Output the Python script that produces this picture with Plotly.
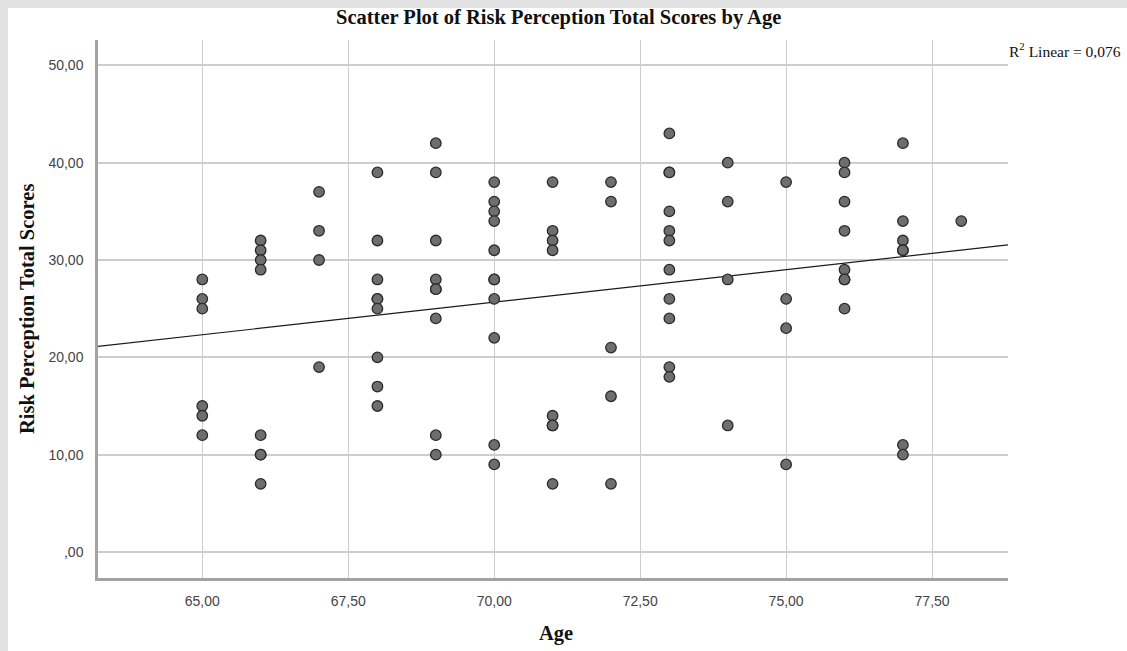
import numpy as np
import plotly.graph_objects as go

# ---- data ----
scores_65 = [28, 26, 25, 15, 14, 12]
scores_66 = [32, 31, 30, 29, 12, 10, 10, 7]
scores_67 = [37, 33, 30, 19]
scores_68 = [39, 32, 28, 26, 26, 25, 20, 17, 15]
scores_69 = [42, 39, 32, 28, 27, 27, 24, 12, 10]
scores_70 = [38, 36, 35, 34, 31, 28, 28, 26, 22, 11, 9]
scores_71 = [38, 33, 32, 31, 14, 13, 13, 7]
scores_72 = [38, 36, 21, 16, 7]
scores_73 = [43, 39, 39, 35, 33, 32, 29, 26, 24, 19, 18]
scores_74 = [40, 36, 28, 13]
scores_75 = [38, 26, 23, 9]
scores_76 = [40, 39, 36, 33, 29, 28, 28, 25]
scores_77 = [42, 34, 32, 31, 31, 11, 10]
scores_78 = [34]

ages_list = [65, 66, 67, 68, 69, 70, 71, 72, 73, 74, 75, 76, 77, 78]
groups = [scores_65, scores_66, scores_67, scores_68, scores_69, scores_70, scores_71,
          scores_72, scores_73, scores_74, scores_75, scores_76, scores_77, scores_78]

x_ticks = [65, 67.5, 70, 72.5, 75, 77.5]
x_ticktext = ["65,00", "67,50", "70,00", "72,50", "75,00", "77,50"]
y_ticks = [0, 10, 20, 30, 40, 50]
y_ticktext = [",00", "10,00", "20,00", "30,00", "40,00", "50,00"]

title_text = "Scatter Plot of Risk Perception Total Scores by Age"
x_title = "Age"
y_title = "Risk Perception Total Scores"
r2_text = "R<sup>2</sup> Linear = 0,076"

x_range = [63.214, 78.8]
y_range = [-2.67, 52.6]

# ---- build ----
ages = []
scores = []
for a, g in zip(ages_list, groups):
    ages += [a] * len(g)
    scores += g
ages = np.array(ages, dtype=float)
scores = np.array(scores, dtype=float)

slope, intercept = np.polyfit(ages, scores, 1)
fit_x = np.array(x_range)
fit_y = slope * fit_x + intercept

fig = go.Figure()
fig.add_trace(go.Scatter(
    x=fit_x, y=fit_y, mode="lines",
    line=dict(color="#1a1a1a", width=1.2),
    hoverinfo="skip", showlegend=False))
fig.add_trace(go.Scatter(
    x=ages, y=scores, mode="markers",
    marker=dict(size=10.5, color="#6e6e6e", line=dict(color="#2b2b2b", width=1.3)),
    showlegend=False))

W, H = 1127, 651
L, R, T, B = 98, 119, 40, 73
pw, ph = W - L - R, H - T - B

def px2paper_x(px):
    return (px - L) / pw

def px2paper_y(py):
    return (H - B - py) / ph

tickfont = dict(family="Liberation Sans, Arial", size=14, color="#444444")
fig.update_layout(
    width=W, height=H,
    margin=dict(l=L, r=R, t=T, b=B, pad=0),
    paper_bgcolor="white", plot_bgcolor="white",
    showlegend=False,
    xaxis=dict(range=x_range, tickvals=x_ticks, ticktext=x_ticktext,
               showgrid=True, gridcolor="#cdcdcd", gridwidth=1.3,
               showline=True, linecolor="#a3a3a3", linewidth=2.5,
               zeroline=False, ticks="outside", ticklen=8, tickcolor="rgba(0,0,0,0)",
               tickfont=tickfont),
    yaxis=dict(range=y_range, tickvals=y_ticks, ticktext=y_ticktext,
               showgrid=True, gridcolor="#cdcdcd", gridwidth=1.6,
               showline=True, linecolor="#a3a3a3", linewidth=2.5,
               zeroline=False, ticks="outside", ticklen=9, tickcolor="rgba(0,0,0,0)",
               tickfont=tickfont),
)

serif = "Liberation Serif, Times New Roman, serif"
fig.add_annotation(text="<b>" + title_text + "</b>", xref="paper", yref="paper",
                   x=px2paper_x(558), y=px2paper_y(17), showarrow=False,
                   xanchor="center", yanchor="middle",
                   font=dict(family=serif, size=20.5, color="#111111"))
fig.add_annotation(text="<b>" + x_title + "</b>", xref="paper", yref="paper",
                   x=px2paper_x(556), y=px2paper_y(633), showarrow=False,
                   xanchor="center", yanchor="middle",
                   font=dict(family=serif, size=20.5, color="#111111"))
fig.add_annotation(text="<b>" + y_title + "</b>", xref="paper", yref="paper",
                   x=px2paper_x(27), y=px2paper_y(309), showarrow=False,
                   xanchor="center", yanchor="middle", textangle=-90,
                   font=dict(family=serif, size=20.5, color="#111111"))
fig.add_annotation(text=r2_text, xref="paper", yref="paper",
                   x=px2paper_x(1007), y=px2paper_y(50), showarrow=False,
                   xanchor="left", yanchor="middle",
                   font=dict(family=serif, size=15.5, color="#111111"))

# light grey frame on left and top
fig.add_shape(type="rect", xref="paper", yref="paper",
              x0=px2paper_x(0), x1=px2paper_x(8), y0=px2paper_y(H), y1=px2paper_y(0),
              fillcolor="#e1e1e1", line=dict(width=0), layer="below")
fig.add_shape(type="rect", xref="paper", yref="paper",
              x0=px2paper_x(0), x1=px2paper_x(W), y0=px2paper_y(8), y1=px2paper_y(0),
              fillcolor="#e1e1e1", line=dict(width=0), layer="below")

fig.write_html(
    "out.html",
    config={"displayModeBar": False},
    post_script="document.body.style.margin='0';document.body.style.overflow='hidden';",
)
